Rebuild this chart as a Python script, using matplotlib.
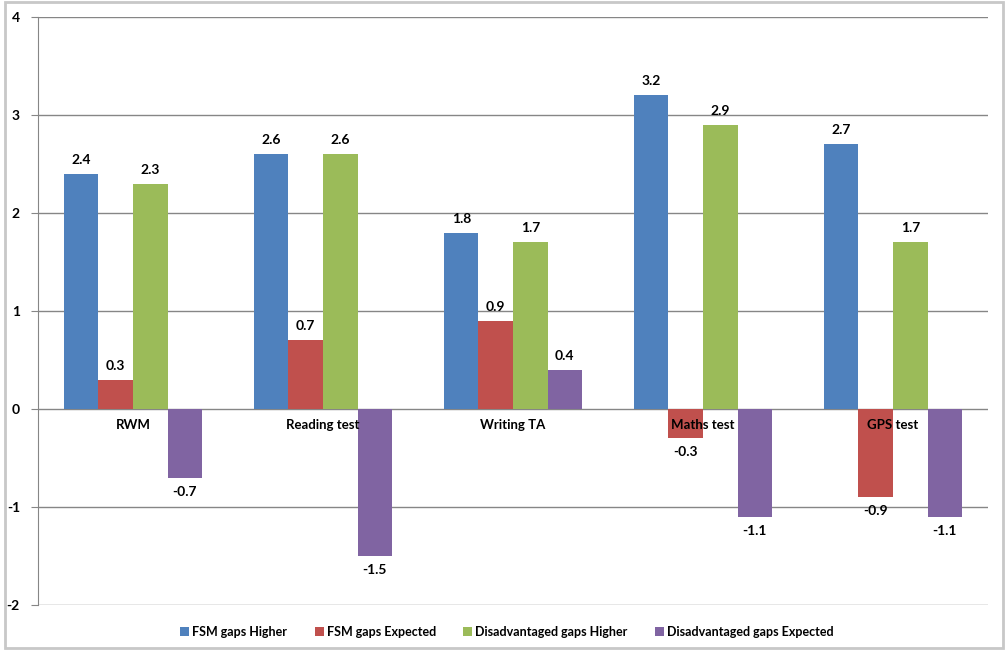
import matplotlib
matplotlib.use("Agg")
import matplotlib.pyplot as plt
import numpy as np
from matplotlib.patches import Rectangle

categories = ["RWM", "Reading test", "Writing TA", "Maths test", "GPS test"]
series_names = ["FSM gaps Higher", "FSM gaps Expected", "Disadvantaged gaps Higher", "Disadvantaged gaps Expected"]
fsm_higher = [2.4, 2.6, 1.8, 3.2, 2.7]
fsm_expected = [0.3, 0.7, 0.9, -0.3, -0.9]
dis_higher = [2.3, 2.6, 1.7, 2.9, 1.7]
dis_expected = [-0.7, -1.5, 0.4, -1.1, -1.1]
y_ticks = [-2, -1, 0, 1, 2, 3, 4]

colors = ["#4F81BD", "#C0504D", "#9BBB59", "#8064A2"]
series = [fsm_higher, fsm_expected, dis_higher, dis_expected]

plt.rcParams['font.family'] = ['Lato', 'DejaVu Sans']

fig = plt.figure(figsize=(10.06, 6.57), dpi=100)
ax = fig.add_axes([38/1006, 1-605/657, (988-38)/1006, (605-17)/657])

n = len(categories)
x = np.arange(n)
bw = 0.1816
for i, (vals, c, name) in enumerate(zip(series, colors, series_names)):
    pos = x + (i - 1.5) * bw
    ax.bar(pos, vals, width=bw, color=c, label=name, zorder=3)
    for p, v in zip(pos, vals):
        off = 14 if v >= 0 else -14
        ax.annotate(f"{v:.1f}", (p, v), xytext=(0, off), textcoords="offset pixels",
                    ha="center", va="center", fontsize=10, fontweight="bold", color="black")

ax.set_xlim(-0.5, n - 0.5)
ax.set_ylim(-2, 4)
ax.set_yticks(y_ticks)
ax.set_yticklabels([str(t) for t in y_ticks], fontsize=10, fontweight="bold")
ax.yaxis.grid(True, color="#868686", linewidth=1, zorder=0)
ax.set_axisbelow(True)
ax.set_xticks([])
for s in ["top", "right", "bottom"]:
    ax.spines[s].set_visible(False)
ax.spines["left"].set_color("#868686")
ax.tick_params(axis="y", length=5, color="#868686", pad=8)

for xi, cat in zip(x, categories):
    ax.annotate(cat, (xi, 0), xytext=(0, -16), textcoords="offset pixels",
                ha="center", va="center", fontsize=9.5, fontweight="bold")

leg = fig.legend(loc="center", bbox_to_anchor=(507/1006, 1-632/657), ncol=4, frameon=False,
                 fontsize=9, handlelength=0.7, handleheight=0.7, columnspacing=2.2, handletextpad=0.25)
for t in leg.get_texts():
    t.set_fontweight("bold")

# window frame
fig.patches.append(Rectangle((5/1006, 1-648/657), 998/1006, 646/657, transform=fig.transFigure,
                             fill=False, edgecolor="#C8C8C8", linewidth=2))

fig.savefig("out.png", dpi=100)
